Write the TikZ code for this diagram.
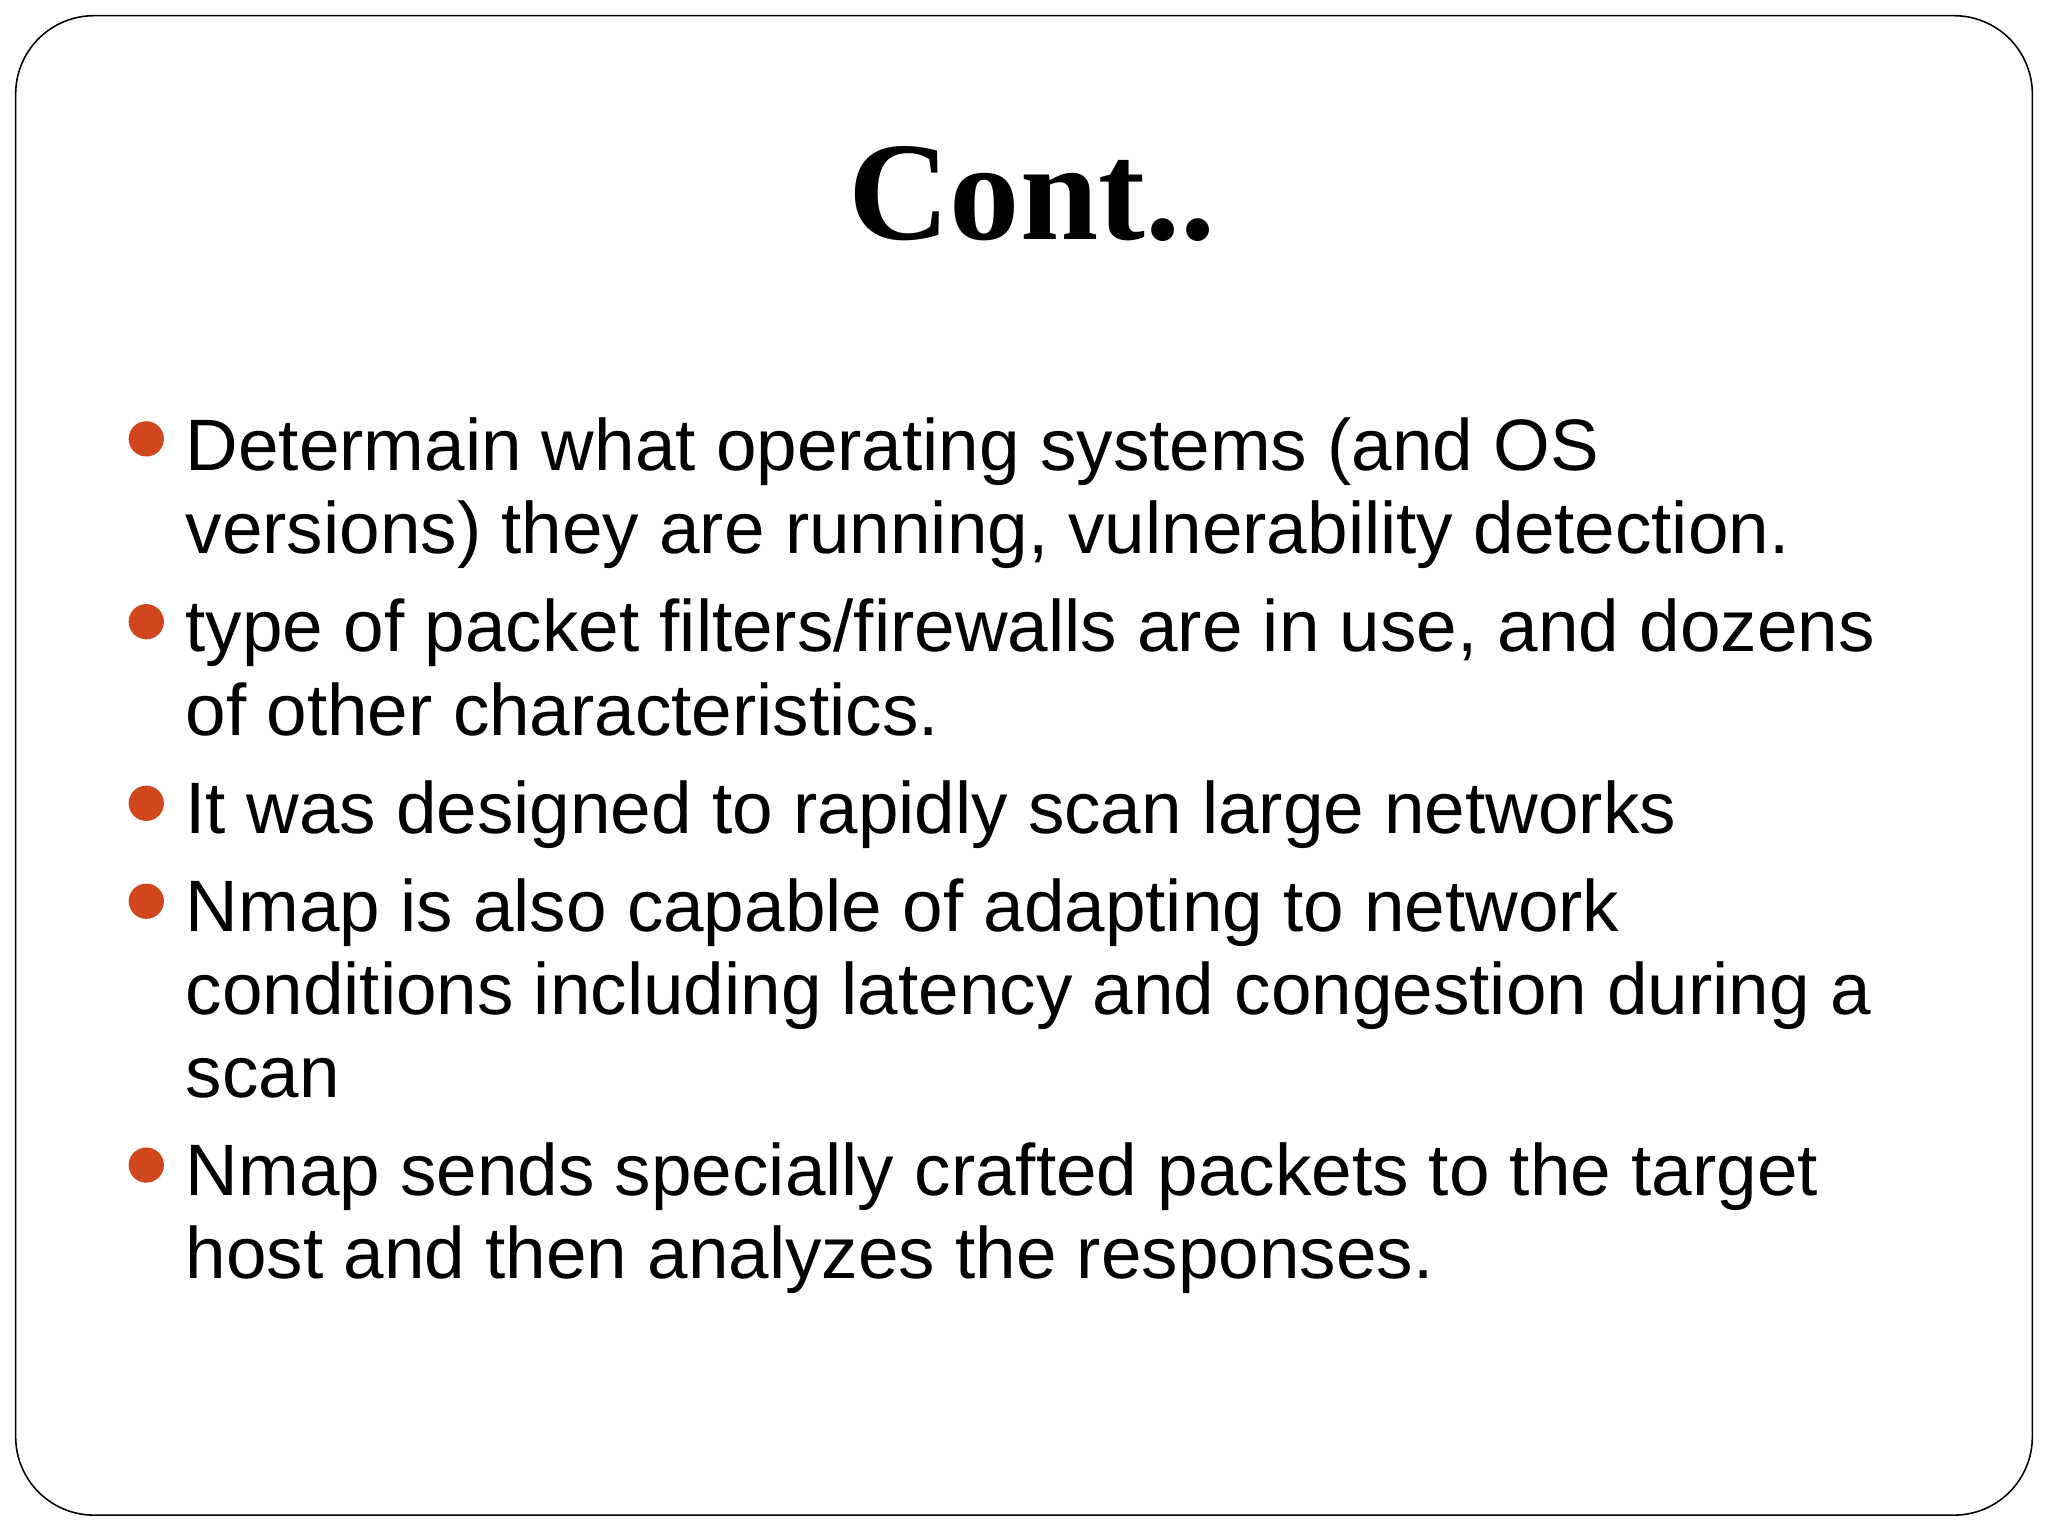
\documentclass[tikz,border=0pt]{standalone}
\usepackage{fontspec}
\setmainfont{Liberation Sans}
\newfontfamily\titlefont{Liberation Serif}
\definecolor{bul}{HTML}{D2461E}
\begin{document}
\begin{tikzpicture}[x=1bp,y=-1bp,
  ln/.style={anchor=base west,inner sep=0pt,font=\fontsize{56}{65}\selectfont},
  dot/.style={circle,fill=bul,inner sep=0pt,minimum size=27bp}]
\useasboundingbox (0,0) rectangle (1568,1176);
\draw[line width=1.2bp,rounded corners=60bp] (12,12) rectangle (1556,1160);
\node[anchor=base,inner sep=0pt,font=\titlefont\bfseries\fontsize{108}{120}\selectfont] (t) at (790,183) {Cont..};
\node[dot] (b1) at (112,336) {};
\node[ln] (l1) at (142,360) {Determain what operating systems (and OS};
\node[ln] (l2) at (142,424) {versions) they are running, vulnerability detection.};
\node[dot] (b2) at (112,476) {};
\node[ln] (l3) at (142,499) {type of packet filters/firewalls are in use, and dozens};
\node[ln] (l4) at (142,563) {of other characteristics.};
\node[dot] (b3) at (112,615) {};
\node[ln] (l5) at (142,638) {It was designed to rapidly scan large networks};
\node[dot] (b4) at (112,690) {};
\node[ln] (l6) at (142,713) {Nmap is also capable of adapting to network};
\node[ln] (l7) at (142,777) {conditions including latency and congestion during a};
\node[ln] (l8) at (142,840) {scan};
\node[dot] (b5) at (112,892) {};
\node[ln] (l9) at (142,915) {Nmap sends specially crafted packets to the target};
\node[ln] (l10) at (142,979) {host and then analyzes the responses.};
\end{tikzpicture}
\end{document}
